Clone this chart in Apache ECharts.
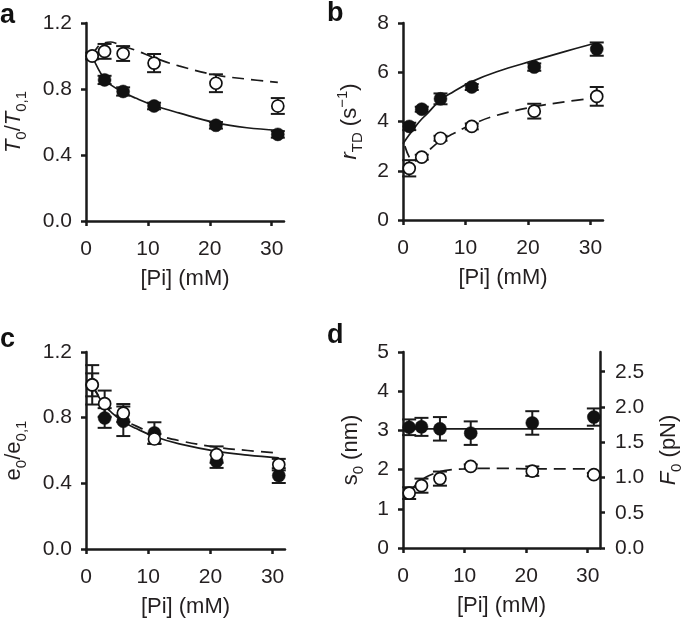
<!DOCTYPE html>
<html>
<head>
<meta charset="utf-8">
<script src="https://cdn.jsdelivr.net/npm/echarts@6/dist/echarts.min.js"></script>
<style>
html,body{margin:0;padding:0;background:#fff;}
#chart{width:685px;height:619px;}
</style>
</head>
<body>
<div id="chart"></div>
<script>
// ---------- data ----------
const xPi = [1, 3, 6, 11, 21, 31];
const xTicks = [0, 10, 20, 30];

// panel a : T0/T0,1
const aFilled = [1.0, 0.855, 0.785, 0.697, 0.58, 0.525];
const aFilledErr = [0.02, 0.025, 0.025, 0.02, 0.02, 0.02];
const aOpen = [1.0, 1.028, 1.015, 0.957, 0.835, 0.697];
const aOpenErr = [0, 0.045, 0.045, 0.055, 0.054, 0.048];
const aSolidX = [1, 2, 3, 4, 6, 8, 11, 15, 21, 26, 31];
const aSolid = [1.0, 0.92, 0.86, 0.825, 0.78, 0.745, 0.70, 0.655, 0.595, 0.565, 0.55];
const aDashX = [1, 2, 3, 4, 5, 6, 8, 11, 15, 21, 26, 31];
const aDash = [1.0, 1.06, 1.08, 1.085, 1.075, 1.06, 1.035, 0.99, 0.94, 0.885, 0.86, 0.84];
const aYTicks = [0, 0.4, 0.8, 1.2];

// panel b : rTD (s-1)
const bFilled = [3.8, 4.5, 4.92, 5.4, 6.21, 6.94];
const bFilledErr = [0.15, 0.1, 0.22, 0.12, 0.15, 0.27];
const bOpen = [2.1, 2.55, 3.32, 3.8, 4.42, 5.02];
const bOpenErr = [0.33, 0.1, 0.1, 0.12, 0.3, 0.38];
const bSolidX = [0, 1, 2, 3, 4, 6, 8, 11, 15, 21, 26, 31];
const bSolid = [3.1, 3.46, 3.8, 4.1, 4.35, 4.88, 5.2, 5.62, 6.02, 6.48, 6.85, 7.2];
const bDashX = [0.3, 1, 1.5, 2, 3, 4, 6, 8, 11, 15, 21, 26, 31];
const bDash = [3.0, 2.55, 2.42, 2.4, 2.58, 2.8, 3.22, 3.5, 3.88, 4.25, 4.6, 4.8, 4.97];
const bYTicks = [0, 2, 4, 6, 8];

// panel c : e0/e0,1
const cFilled = [1.0, 0.798, 0.778, 0.707, 0.534, 0.447];
const cFilledErr = [0.12, 0.06, 0.09, 0.065, 0.04, 0.045];
const cOpen = [1.0, 0.885, 0.828, 0.67, 0.575, 0.514];
const cOpenErr = [0.07, 0.08, 0.055, 0.03, 0.05, 0.035];
const cSolidX = [1, 2, 3, 4, 6, 8, 11, 15, 21, 26, 31];
const cSolid = [1.0, 0.93, 0.875, 0.835, 0.775, 0.735, 0.685, 0.64, 0.595, 0.572, 0.555];
const cDashX = [1, 2, 3, 4, 6, 8, 11, 15, 21, 26, 31];
const cDash = [1.0, 0.935, 0.88, 0.84, 0.785, 0.75, 0.70, 0.66, 0.62, 0.60, 0.585];
const cYTicks = [0, 0.4, 0.8, 1.2];

// panel d : s0 (nm) / F0 (pN)
const dFilled = [3.08, 3.09, 3.04, 2.93, 3.19, 3.34];
const dFilledErr = [0.2, 0.23, 0.3, 0.3, 0.3, 0.22];
const dOpen = [1.40, 1.59, 1.77, 2.08, 1.96, 1.87];
const dOpenErr = [0.15, 0.18, 0.18, 0.05, 0.12, 0.04];
const dSolidX = [0.3, 31];
const dSolid = [3.04, 3.04];
const dDashX = [1, 2, 3, 4, 6, 8, 10, 12, 16, 21, 26, 31];
const dDash = [1.42, 1.6, 1.73, 1.83, 1.95, 2.0, 2.02, 2.03, 2.03, 2.02, 2.02, 2.02];
const dYTicks = [0, 1, 2, 3, 4, 5];
const dY2Ticks = [0, 0.5, 1.0, 1.5, 2.0, 2.5];

// ---------- helpers ----------
const FONT = 'Liberation Sans, Arial, sans-serif';
const INK = '#1a1a1a';
const TXT = '#231f20';

const pairs = (xs, ys) => xs.map((x, i) => [x, ys[i]]);
const triples = (xs, ys, es) => xs.map((x, i) => [x, ys[i], es[i]]);

function errRender(params, api) {
  const x = api.value(0), y = api.value(1), e = api.value(2);
  if (!e) return null;
  const hi = api.coord([x, y + e]);
  const lo = api.coord([x, y - e]);
  const w = 7;
  const st = { stroke: INK, lineWidth: 2 };
  return {
    type: 'group',
    children: [
      { type: 'line', shape: { x1: hi[0], y1: hi[1], x2: lo[0], y2: lo[1] }, style: st },
      { type: 'line', shape: { x1: hi[0] - w, y1: hi[1], x2: hi[0] + w, y2: hi[1] }, style: st },
      { type: 'line', shape: { x1: lo[0] - w, y1: lo[1], x2: lo[0] + w, y2: lo[1] }, style: st }
    ]
  };
}

const grids = [
  { left: 86, top: 23, width: 198, height: 198 },
  { left: 403, top: 23, width: 200, height: 197 },
  { left: 86, top: 352, width: 199, height: 197 },
  { left: 403, top: 352, width: 199, height: 196 }
];

function xAxisFor(gi) {
  return {
    type: 'value', gridIndex: gi, min: 0, max: 32, interval: 10,
    name: '[Pi] (mM)', nameLocation: 'middle', nameGap: 47,
    nameTextStyle: { fontFamily: FONT, fontSize: 22, color: TXT },
    axisLine: { show: true, onZero: false, lineStyle: { color: INK, width: 2.5 } },
    axisTick: { show: true, length: 5, customValues: xTicks, lineStyle: { color: INK, width: 2.5 } },
    axisLabel: { customValues: xTicks, fontFamily: FONT, fontSize: 21, color: TXT, margin: 18 },
    splitLine: { show: false }
  };
}

const rich = {
  n: { fontFamily: FONT, fontSize: 22, color: TXT, lineHeight: 30, verticalAlign: 'middle' },
  i: { fontFamily: FONT, fontSize: 22, fontStyle: 'italic', color: TXT, lineHeight: 30, verticalAlign: 'middle' },
  s: { fontFamily: FONT, fontSize: 15, color: TXT, lineHeight: 13, verticalAlign: 'bottom' },
  p: { fontFamily: FONT, fontSize: 15, color: TXT, lineHeight: 13, verticalAlign: 'top' }
};

function yAxisFor(gi, max, interval, ticks, name, gap, decimals, pos) {
  return {
    type: 'value', gridIndex: gi, min: 0, max: max, interval: interval,
    position: pos || 'left',
    name: name, nameLocation: 'middle', nameRotate: 90, nameGap: gap,
    nameTextStyle: { fontFamily: FONT, fontSize: 22, color: TXT, rich: rich },
    axisLine: { show: true, onZero: false, lineStyle: { color: INK, width: 2.5 } },
    axisTick: { show: true, length: 5, customValues: ticks, lineStyle: { color: INK, width: 2.5 } },
    axisLabel: {
      customValues: ticks, fontFamily: FONT, fontSize: 21, color: TXT, margin: 14,
      formatter: v => v.toFixed(decimals)
    },
    splitLine: { show: false }
  };
}

const xAxes = [0, 1, 2, 3].map(xAxisFor);
const yAxes = [
  yAxisFor(0, 1.2, 0.4, aYTicks, '{i|T}{s|0}{n|/}{i|T}{s|0,1}', 57, 1),
  yAxisFor(1, 8, 2, bYTicks, '{i|r}{s|TD}{n| (s}{p|\u22121}{n|)}', 38, 0),
  yAxisFor(2, 1.2, 0.4, cYTicks, '{n|e}{s|0}{n|/e}{s|0,1}', 57, 1),
  yAxisFor(3, 5, 1, dYTicks, '{n|s}{s|0}{n| (nm)}', 37, 0),
  yAxisFor(3, 2.78, 0.5, dY2Ticks, '{i|F}{s|0}{n| (pN)}', 54, 1, 'right')
];
yAxes[4].axisLabel.margin = 15;

function panelSeries(gi, yi, filled, fErr, open, oErr, sX, sY, dX, dY) {
  return [
    { type: 'line', xAxisIndex: gi, yAxisIndex: yi, data: pairs(sX, sY), smooth: 0.4,
      showSymbol: false, lineStyle: { color: INK, width: 1.7 }, z: 2 },
    { type: 'line', xAxisIndex: gi, yAxisIndex: yi, data: pairs(dX, dY), smooth: 0.4,
      showSymbol: false, lineStyle: { color: INK, width: 1.7, type: [12, 7] }, z: 2 },
    { type: 'custom', xAxisIndex: gi, yAxisIndex: yi, data: triples(xPi, filled, fErr),
      renderItem: errRender, encode: { x: 0, y: 1 }, z: 3 },
    { type: 'custom', xAxisIndex: gi, yAxisIndex: yi, data: triples(xPi, open, oErr),
      renderItem: errRender, encode: { x: 0, y: 1 }, z: 3 },
    { type: 'scatter', xAxisIndex: gi, yAxisIndex: yi, data: pairs(xPi, filled),
      symbol: 'circle', symbolSize: 13,
      itemStyle: { color: '#111', borderColor: '#111', borderWidth: 0.5, opacity: 1 }, z: 4 },
    { type: 'scatter', xAxisIndex: gi, yAxisIndex: yi, data: pairs(xPi, open),
      symbol: 'circle', symbolSize: 12,
      itemStyle: { color: '#fff', borderColor: '#111', borderWidth: 1.7, opacity: 1 }, z: 5 }
  ];
}

const series = [].concat(
  panelSeries(0, 0, aFilled, aFilledErr, aOpen, aOpenErr, aSolidX, aSolid, aDashX, aDash),
  panelSeries(1, 1, bFilled, bFilledErr, bOpen, bOpenErr, bSolidX, bSolid, bDashX, bDash),
  panelSeries(2, 2, cFilled, cFilledErr, cOpen, cOpenErr, cSolidX, cSolid, cDashX, cDash),
  panelSeries(3, 3, dFilled, dFilledErr, dOpen, dOpenErr, dSolidX, dSolid, dDashX, dDash)
);

const letterStyle = { fontFamily: FONT, fontSize: 27, fontWeight: 'bold', fill: '#111', verticalAlign: 'middle' };
const chart = echarts.init(document.getElementById('chart'), null, { renderer: 'canvas' });
chart.setOption({
  animation: false,
  backgroundColor: '#fff',
  grid: grids,
  xAxis: xAxes,
  yAxis: yAxes,
  series: series,
  graphic: [
    { type: 'text', left: 0, top: 2, style: Object.assign({ text: 'a' }, letterStyle) },
    { type: 'text', left: 327, top: 0, style: Object.assign({ text: 'b' }, letterStyle) },
    { type: 'text', left: 0, top: 326, style: Object.assign({ text: 'c' }, letterStyle) },
    { type: 'text', left: 327, top: 322, style: Object.assign({ text: 'd' }, letterStyle) }
  ]
});
</script>
</body>
</html>
